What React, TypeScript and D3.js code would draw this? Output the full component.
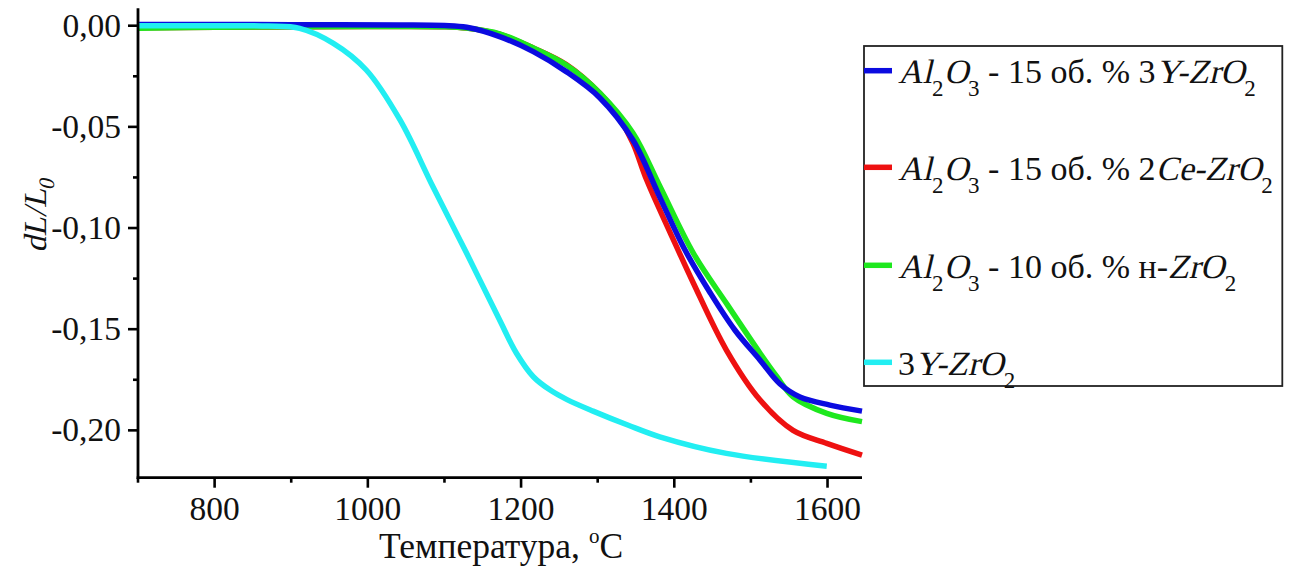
import React from "react";
import * as d3 from "d3";

const xTicksMajor = [800, 1000, 1200, 1400, 1600];
const xTicksMinor = [700, 900, 1100, 1300, 1500];
const yTicksMajor = [0, -0.05, -0.1, -0.15, -0.2];
const yTicksMinor = [-0.025, -0.075, -0.125, -0.175];
const yTickLabels = ["0,00", "-0,05", "-0,10", "-0,15", "-0,20"];

const blueT = [700, 800, 900, 1042, 1100, 1129, 1172, 1216, 1259, 1303, 1346, 1381, 1414, 1447, 1479, 1512, 1538, 1564, 1603, 1645];
const blueV = [0.0006, 0.0006, 0.0005, 0.0004, 0.0001, -0.0008, -0.0054, -0.0128, -0.0227, -0.0357, -0.0565, -0.0847, -0.1109, -0.1321, -0.1504, -0.1653, -0.1771, -0.1835, -0.1875, -0.1905];

const redT = [700, 1000, 1100, 1129, 1172, 1216, 1259, 1303, 1327, 1346, 1364, 1405, 1425, 1468, 1512, 1555, 1599, 1645];
const redV = [-0.001, -0.0004, -0.0005, -0.0012, -0.0042, -0.011, -0.0192, -0.0335, -0.045, -0.058, -0.0763, -0.1109, -0.1273, -0.1603, -0.185, -0.2, -0.2064, -0.2122];

const greenT = [700, 800, 1000, 1100, 1129, 1172, 1216, 1259, 1303, 1346, 1381, 1425, 1468, 1512, 1534, 1555, 1599, 1645];
const greenV = [-0.0012, -0.0008, -0.0004, -0.0005, -0.0012, -0.004, -0.011, -0.0194, -0.0333, -0.053, -0.0792, -0.1125, -0.1372, -0.1619, -0.1735, -0.1834, -0.1916, -0.1957];

const cyanT = [700, 800, 870, 911, 955, 998, 1042, 1085, 1129, 1172, 1194, 1216, 1238, 1260, 1294, 1340, 1381, 1468, 1599];
const cyanV = [0, 0, -0.0002, -0.0013, -0.0087, -0.0219, -0.0466, -0.0796, -0.1125, -0.1455, -0.1619, -0.1735, -0.1801, -0.1848, -0.1905, -0.1975, -0.2032, -0.2114, -0.2177];

const seriesColors = { blue: "#0b0be0", red: "#ee1111", green: "#1ee81e", cyan: "#22eef2" };

const FONT = "'Liberation Serif', Tinos, 'Times New Roman', serif";
const SKEW = "skewX(-13deg)";

type Part = { t: string; i?: boolean; sub?: boolean };

const legendItems: { color: string; parts: Part[] }[] = [
  {
    color: seriesColors.blue,
    parts: [
      { t: "Al", i: true }, { t: "2", sub: true }, { t: "O", i: true }, { t: "3", sub: true },
      { t: " - 15 об. % 3" }, { t: "Y-ZrO", i: true }, { t: "2", sub: true },
    ],
  },
  {
    color: seriesColors.red,
    parts: [
      { t: "Al", i: true }, { t: "2", sub: true }, { t: "O", i: true }, { t: "3", sub: true },
      { t: " - 15 об. % 2" }, { t: "Ce-ZrO", i: true }, { t: "2", sub: true },
    ],
  },
  {
    color: seriesColors.green,
    parts: [
      { t: "Al", i: true }, { t: "2", sub: true }, { t: "O", i: true }, { t: "3", sub: true },
      { t: " - 10 об. % н-" }, { t: "ZrO", i: true }, { t: "2", sub: true },
    ],
  },
  {
    color: seriesColors.cyan,
    parts: [{ t: "3" }, { t: "Y-ZrO", i: true }, { t: "2", sub: true }],
  },
];

const LEG_FS = 34;

function renderParts(parts: Part[]) {
  return parts.map((p, k) => {
    if (p.sub) {
      return (
        <span key={k} style={{ fontSize: 23, position: "relative", top: 13 }}>{p.t}</span>
      );
    }
    if (p.i) {
      return (
        <span key={k} style={{ display: "inline-block", transform: SKEW, transformOrigin: "0 28px" }}>{p.t}</span>
      );
    }
    return <span key={k}>{p.t}</span>;
  });
}

export default function App() {
  const W = 1292, H = 572;
  const x = d3.scaleLinear().domain([700, 1645]).range([138, 862]);
  const y = d3.scaleLinear().domain([-0.2234, 0.0086]).range([477.7, 8.3]);

  const line = d3.line<[number, number]>()
    .x((d) => x(d[0]))
    .y((d) => y(d[1]))
    .curve(d3.curveCatmullRom.alpha(0.5));

  const zip = (a: number[], b: number[]) => a.map((t, i) => [t, b[i]] as [number, number]);
  const curves = [
    { c: seriesColors.red, d: zip(redT, redV) },
    { c: seriesColors.green, d: zip(greenT, greenV) },
    { c: seriesColors.blue, d: zip(blueT, blueV) },
    { c: seriesColors.cyan, d: zip(cyanT, cyanV) },
  ];

  const x0 = x.range()[0], x1 = x.range()[1];
  const yTop = y.range()[1], yBot = y.range()[0];

  const legendRowY = [70.7, 167.3, 265.3, 362.3];
  const txt = { fontFamily: FONT, fill: "#111" } as React.CSSProperties;
  // baseline offset inside a line box of LEG_FS height (Liberation Serif ascent .891, descent .216)
  const baseInBox = (LEG_FS - 1.107 * LEG_FS) / 2 + 0.891 * LEG_FS;

  return (
    <svg width={W} height={H} style={{ position: "absolute", left: 0, top: 0, background: "#fff", fontFamily: FONT }}>
      <rect x={0} y={0} width={W} height={H} fill="#fff" />
      {curves.map((s, i) => (
        <path key={i} d={line(s.d) || ""} fill="none" stroke={s.c} strokeWidth={5.5} strokeLinejoin="round" />
      ))}
      <line x1={x0} x2={x0} y1={yTop} y2={yBot + 1.3} stroke="#000" strokeWidth={2.8} />
      <line x1={x0 - 1.3} x2={x1} y1={yBot} y2={yBot} stroke="#000" strokeWidth={2.8} />
      {xTicksMajor.map((t) => (
        <g key={"xm" + t}>
          <line x1={x(t)} x2={x(t)} y1={yBot} y2={yBot + 10} stroke="#000" strokeWidth={2.6} />
          <text x={x(t)} y={520} textAnchor="middle" style={{ ...txt, fontSize: 33.5 }}>{t}</text>
        </g>
      ))}
      {xTicksMinor.map((t) => (
        <line key={"xn" + t} x1={x(t)} x2={x(t)} y1={yBot} y2={yBot + 5} stroke="#000" strokeWidth={2.6} />
      ))}
      {yTicksMajor.map((t, i) => (
        <g key={"ym" + t}>
          <line x1={x0 - 10} x2={x0} y1={y(t)} y2={y(t)} stroke="#000" strokeWidth={2.6} />
          <text x={121} y={y(t) + 11} textAnchor="end" style={{ ...txt, fontSize: 33.5 }}>{yTickLabels[i]}</text>
        </g>
      ))}
      {yTicksMinor.map((t) => (
        <line key={"yn" + t} x1={x0 - 5} x2={x0} y1={y(t)} y2={y(t)} stroke="#000" strokeWidth={2.6} />
      ))}
      <text x={501} y={558} textAnchor="middle" style={{ ...txt, fontSize: 35.5 }}>
        Температура, <tspan style={{ fontSize: 21 }} dy={-15}>o</tspan><tspan dy={15}>C</tspan>
      </text>
      <text transform={`translate(46, 215) rotate(-90) skewX(-13)`} textAnchor="middle" style={{ ...txt, fontSize: 32 }}>
        dL/L<tspan style={{ fontSize: 22 }} dy={8}>0</tspan>
      </text>
      <rect x={864} y={46} width={418.3} height={340} fill="#fff" stroke="#222" strokeWidth={1.8} />
      {legendItems.map((it, i) => (
        <line key={"ll" + i} x1={864} x2={892} y1={legendRowY[i]} y2={legendRowY[i]} stroke={it.color} strokeWidth={5.5} />
      ))}
      <foreignObject x={898} y={0} width={384} height={420}>
        <div style={{ position: "relative", width: 384, height: 420, fontFamily: FONT, fontSize: LEG_FS, lineHeight: `${LEG_FS}px`, color: "#111" }}>
          {legendItems.map((it, i) => (
            <div key={"lt" + i} style={{ position: "absolute", left: 0, top: legendRowY[i] + 12.8 - baseInBox, whiteSpace: "pre" }}>
              {renderParts(it.parts)}
            </div>
          ))}
        </div>
      </foreignObject>
    </svg>
  );
}
